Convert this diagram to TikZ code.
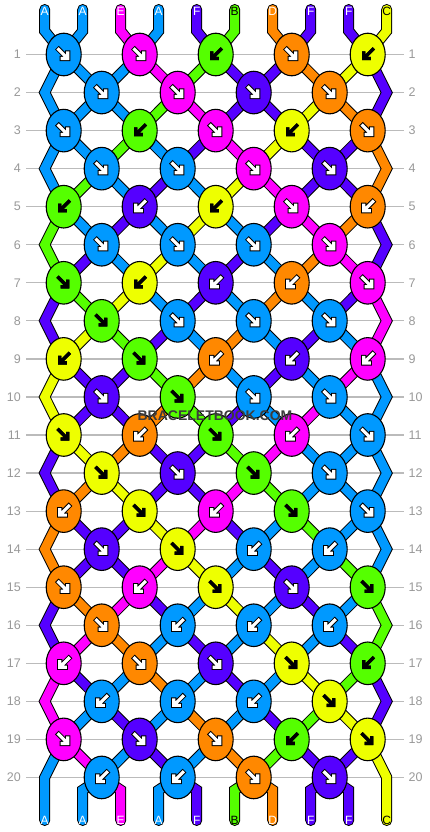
\documentclass[tikz,border=0pt]{standalone}
\usepackage{fontspec}
\setmainfont{Liberation Sans}
\usetikzlibrary{shapes.geometric}
\definecolor{cA}{HTML}{0099FF}
\definecolor{cB}{HTML}{55FF00}
\definecolor{cC}{HTML}{EEFF00}
\definecolor{cD}{HTML}{FF8800}
\definecolor{cE}{HTML}{FF00FF}
\definecolor{cF}{HTML}{5500FF}
\colorlet{tA}{white}
\colorlet{tB}{black}
\colorlet{tC}{black}
\colorlet{tD}{white}
\colorlet{tE}{white}
\colorlet{tF}{white}
\def\owA{5.2}\def\owB{3.4}\def\owC{3.4}\def\owD{5.2}\def\owE{5.2}\def\owF{5.2}
\definecolor{rowgray}{HTML}{BBBBBB}
\definecolor{labgray}{HTML}{999999}
\definecolor{wmgray}{HTML}{3C3C3C}

\newcommand\strandpass[1]{%
\foreach \r/\st in {0/{A,A,E,A,F,B,D,F,F,C},1/{A,A,A,E,B,F,F,D,C,F},2/{A,A,A,B,E,F,F,C,D,F},3/{A,A,B,A,F,E,C,F,F,D},4/{A,B,A,F,A,C,E,F,F,D},5/{B,A,F,A,C,A,F,E,D,F},6/{B,F,A,C,A,F,A,D,E,F},7/{F,B,C,A,F,A,D,A,F,E},8/{F,C,B,F,A,D,A,F,A,E},9/{C,F,F,B,D,A,F,A,E,A},10/{C,F,F,D,B,F,A,E,A,A},11/{F,C,D,F,F,B,E,A,A,A},12/{F,D,C,F,F,E,B,A,A,A},13/{D,F,F,C,E,F,A,B,A,A},14/{D,F,F,E,C,A,F,A,B,A},15/{F,D,E,F,A,C,A,F,A,B},16/{F,E,D,A,F,A,C,A,F,B},17/{E,F,A,D,A,F,A,C,B,F},18/{E,A,F,A,D,A,F,B,C,F},19/{A,E,A,F,A,D,B,F,F,C},20/{A,A,E,A,F,B,D,F,F,C}}{%
 \pgfmathtruncatemacro\rn{\r+1}%
 \pgfmathtruncatemacro\rnn{\r+2}%
 \foreach \c [count=\p] in \st {%
  \pgfmathtruncatemacro\hi{(\p+1)/2}%
  \pgfmathtruncatemacro\lo{\p/2}%
  \ifnum\r=0
    \draw[strand,#1] (T-\p) -- (TB-\p) -- (K-1-\hi);
  \else\ifnum\r=20
    \ifnum\p>1 \ifnum\p<10 \draw[strand,#1] (K-20-\lo) -- (BB-\p) -- (B-\p); \fi\fi
  \else\ifodd\r
    \ifnum\p=1 \draw[strand,#1] (K-\r-1) -- (E-\rn-L) -- (K-\rnn-1);
    \else\ifnum\p=10 \draw[strand,#1] (K-\r-5) -- (E-\rn-R) -- (K-\rnn-5);
    \else \draw[strand,#1] (K-\r-\hi) -- (K-\rn-\lo);
    \fi\fi
  \else
    \ifnum\p>1 \ifnum\p<10 \draw[strand,#1] (K-\r-\lo) -- (K-\rn-\hi); \fi\fi
  \fi\fi\fi
 }%
}%
}

\begin{document}
\begin{tikzpicture}[x=1pt,y=-1pt,
  strand/.style={line cap=round, line join=miter},
  knot/.style={ellipse, draw=black, line width=1.1, minimum width=35, minimum height=42.6, inner sep=0},
  arrowline/.style={line cap=rect, line join=miter},
  rowlab/.style={text=labgray, font=\fontsize{12.5}{12.5}\selectfont, inner xsep=5, inner ysep=0},
  rowline/.style={draw=rowgray, line width=1.2},
  strandlab/.style={font=\fontsize{12}{12}\selectfont, inner sep=0},
  wm/.style={font=\bfseries\fontsize{14}{14}\selectfont, inner sep=0}]
\path[use as bounding box, fill=white] (0,0) rectangle (430,832);
% grid rows and coordinates
\foreach \r in {1,...,20}{
  \pgfmathsetmacro\yy{54.5+38.05*(\r-1)}
  \ifodd\r
    \foreach \k in {1,...,5}{\coordinate (K-\r-\k) at ({63.7+76*(\k-1)},\yy);}
  \else
    \foreach \k in {1,...,4}{\coordinate (K-\r-\k) at ({101.7+76*(\k-1)},\yy);}
    \coordinate (E-\r-L) at (44.7,\yy);
    \coordinate (E-\r-R) at (386.7,\yy);
  \fi
  \node[rowlab, anchor=east] (LL-\r) at (26,\yy) {\r};
  \node[rowlab, anchor=west] (LR-\r) at (403.5,\yy) {\r};
  \draw[rowline] (LL-\r.east) -- (LR-\r.west);
}
\foreach \p in {1,...,10}{
  \pgfmathsetmacro\xx{44.7+38*(\p-1)}
  \coordinate (T-\p) at (\xx,9.5);
  \coordinate (TB-\p) at (\xx,31);
  \coordinate (BB-\p) at (\xx,790);
  \coordinate (B-\p) at (\xx,820.5);
}
\coordinate (K-21-1) at (B-1);
\coordinate (K-21-5) at (B-10);
% strands
\strandpass{draw=black, line width=11}
\strandpass{draw=c\c, line width=9}
% knots
\foreach \r/\kl in {1/{A/R,E/R,B/L,D/R,C/L},2/{A/R,E/R,F/R,D/R},3/{A/R,B/L,E/R,C/L,D/R},4/{A/R,A/R,E/R,F/R},5/{B/L,F/L,C/L,E/R,D/L},6/{A/R,A/R,A/R,E/R},7/{B/R,C/L,F/L,D/L,E/R},8/{B/R,A/R,A/R,A/R},9/{C/L,B/R,D/L,F/L,E/L},10/{F/R,B/R,A/R,A/R},11/{C/R,D/L,B/R,E/L,A/R},12/{C/R,F/R,B/R,A/R},13/{D/L,C/R,E/L,B/R,A/R},14/{F/R,C/R,A/L,A/L},15/{D/R,E/L,C/R,F/R,B/R},16/{D/R,A/L,A/L,A/L},17/{E/L,D/R,F/R,C/R,B/L},18/{A/L,A/L,A/L,C/R},19/{E/R,F/R,D/R,B/L,C/R},20/{A/L,A/L,D/R,F/R}}{%
  \foreach \c/\d [count=\k] in \kl {%
    \node[knot, fill=c\c] (N-\r-\k) at (K-\r-\k) {};
    \if\d R\def\sx{1}\else\def\sx{-1}\fi
    \begin{scope}[shift={(K-\r-\k)}, xscale=\sx]
      \draw[arrowline, black, line width=\csname ow\c\endcsname] (-5,-5) -- (3,3) (4,-1.5) -- (4,4) -- (-1.5,4);
      \draw[arrowline, t\c, line width=3.2] (-5,-5) -- (3,3) (4,-1.5) -- (4,4) -- (-1.5,4);
    \end{scope}
  }%
}
% strand letters
\foreach \c [count=\p] in {A,A,E,A,F,B,D,F,F,C}{
  \pgfmathsetmacro\xx{44.7+38*(\p-1)}
  \node[strandlab, text=t\c] (TL-\p) at (\xx,11.7) {\c};
  \node[strandlab, text=t\c] (BL-\p) at (\xx,820) {\c};
}
% watermark
\node[wm, text=wmgray] (WM) at (215,416) {BRACELETBOOK.COM};
\end{tikzpicture}
\end{document}
